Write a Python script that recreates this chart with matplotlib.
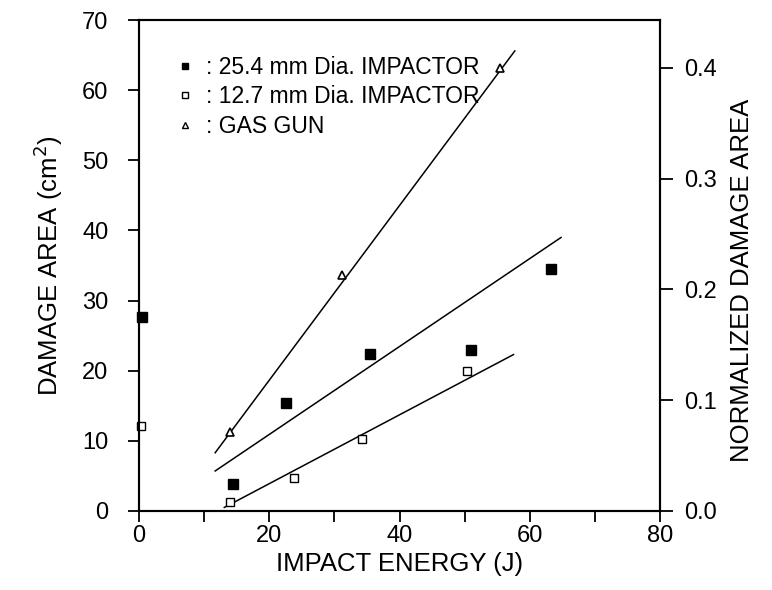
import matplotlib
matplotlib.use("Agg")
import matplotlib.pyplot as plt
from matplotlib.lines import Line2D
from matplotlib.ticker import MultipleLocator, FormatStrFormatter

plt.rcParams["font.family"] = ["Liberation Sans", "DejaVu Sans"]

# measured points, damage area in cm^2 vs impact energy in J
D254_X = [0.5, 14.5, 22.6, 35.4, 50.9, 63.2]
D254_Y = [27.7, 3.8, 15.4, 22.4, 23.0, 34.5]
D127_X = [0.3, 14.0, 23.8, 34.2, 50.3]
D127_Y = [12.1, 1.3, 4.7, 10.2, 20.0]
GAS_X = [14.0, 31.2, 55.5]
GAS_Y = [11.2, 33.6, 63.1]

# fitted trend lines (end points)
FIT_GAS_X = [11.7, 57.7]
FIT_GAS_Y = [8.3, 65.6]
FIT_254_X = [11.7, 64.8]
FIT_254_Y = [5.7, 39.0]
FIT_127_X = [13.1, 57.5]
FIT_127_Y = [0.5, 22.3]

LABELS = [": 25.4 mm Dia. IMPACTOR", ": 12.7 mm Dia. IMPACTOR", ": GAS GUN"]
NORM_TOP = 0.443

TICK_FS = 17
LABEL_FS = 18.5
LEGEND_FS = 16.5

fig = plt.figure(figsize=(7.72, 5.90), dpi=100)
ax = fig.add_axes([0.180, 0.134, 0.675, 0.832])

ax.plot(FIT_GAS_X, FIT_GAS_Y, color="k", lw=1.1)
ax.plot(FIT_254_X, FIT_254_Y, color="k", lw=1.1)
ax.plot(FIT_127_X, FIT_127_Y, color="k", lw=1.1)

ax.plot(D254_X, D254_Y, ls="none", marker="s", ms=6.5, mfc="k", mec="k", clip_on=False, zorder=3)
ax.plot(D127_X, D127_Y, ls="none", marker="s", ms=5.5, mfc="white", mec="k", mew=1.0, clip_on=False, zorder=3)
ax.plot(GAS_X, GAS_Y, ls="none", marker="^", ms=6, mfc="white", mec="k", mew=1.2, zorder=3)

ax.set_xlim(0, 80)
ax.set_ylim(0, 70)
ax.xaxis.set_major_locator(MultipleLocator(20))
ax.xaxis.set_minor_locator(MultipleLocator(10))
ax.yaxis.set_major_locator(MultipleLocator(10))

for s in ax.spines.values():
    s.set_linewidth(1.5)
ax.tick_params(axis="both", which="both", direction="out", width=1.3, labelsize=TICK_FS)
ax.tick_params(axis="x", which="both", length=8, pad=2)
ax.tick_params(axis="y", length=8, pad=14)
ax.tick_params(top=False, right=False)

ax.set_xlabel("IMPACT ENERGY (J)", fontsize=LABEL_FS, labelpad=4)
ax.set_ylabel("DAMAGE AREA (cm$^2$)", fontsize=LABEL_FS, labelpad=12)

ax2 = ax.twinx()
ax2.set_ylim(0, NORM_TOP)
ax2.yaxis.set_major_locator(MultipleLocator(0.1))
ax2.yaxis.set_major_formatter(FormatStrFormatter("%.1f"))
ax2.tick_params(axis="y", direction="out", length=9, width=1.3, pad=8, labelsize=TICK_FS)
for s in ax2.spines.values():
    s.set_linewidth(1.5)
ax2.set_ylabel("NORMALIZED DAMAGE AREA", fontsize=LABEL_FS)
ax2.yaxis.set_label_coords(1.135, 0.47)

handles = [
    Line2D([], [], ls="none", marker="s", ms=4, mfc="k", mec="k"),
    Line2D([], [], ls="none", marker="s", ms=4, mfc="white", mec="k"),
    Line2D([], [], ls="none", marker="^", ms=4, mfc="white", mec="k"),
]
ax.legend(handles, LABELS, loc="upper left", bbox_to_anchor=(0.04, 0.96),
          frameon=False, fontsize=LEGEND_FS, handlelength=0.8, handletextpad=0.5,
          labelspacing=0.28, borderpad=0.2)

fig.savefig("out.png", dpi=100)
